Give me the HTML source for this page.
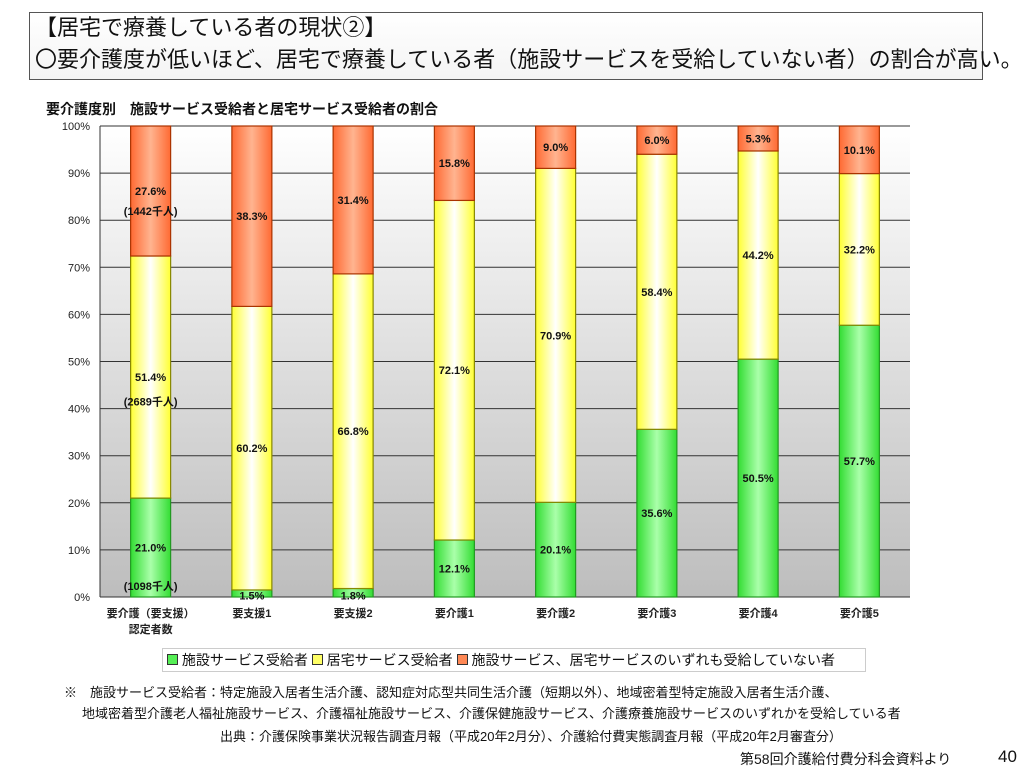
<!DOCTYPE html>
<html><head><meta charset="utf-8"><style>
body{margin:0;width:1024px;height:768px;background:#fff;font-family:"Liberation Sans","Noto Sans CJK JP",sans-serif;position:relative;overflow:hidden}
.abs{position:absolute;white-space:nowrap}
</style></head><body>
<div class="abs" style="left:29px;top:12px;width:952px;height:66px;border:1px solid #555;background:linear-gradient(#fff,#f4f4f4)"></div>
<div class="abs" style="left:35px;top:14px;font-size:22px;color:#111;line-height:28px">【居宅で療養している者の現状②】</div>
<div class="abs" style="left:35px;top:46px;font-size:22px;color:#111;line-height:28px">〇要介護度が低いほど、居宅で療養している者（施設サービスを受給していない者）の割合が高い。</div>
<div class="abs" style="left:46px;top:99px;font-size:14px;font-weight:bold;color:#111">要介護度別　施設サービス受給者と居宅サービス受給者の割合</div>
<svg class="abs" style="left:0;top:0" width="1024" height="768">
<defs>
<linearGradient id="bg" x1="0" y1="0" x2="0" y2="1"><stop offset="0" stop-color="#ffffff"/><stop offset="1" stop-color="#bdbdbd"/></linearGradient>
<linearGradient id="gG" x1="0" x2="1"><stop offset="0" stop-color="#33dd33"/><stop offset="0.5" stop-color="#aaffaa"/><stop offset="1" stop-color="#33dd33"/></linearGradient>
<linearGradient id="gY" x1="0" x2="1"><stop offset="0" stop-color="#ffff33"/><stop offset="0.5" stop-color="#ffffff"/><stop offset="1" stop-color="#ffff33"/></linearGradient>
<linearGradient id="gO" x1="0" x2="1"><stop offset="0" stop-color="#ff6a33"/><stop offset="0.5" stop-color="#ffb490"/><stop offset="1" stop-color="#ff6a33"/></linearGradient>
</defs>
<g id="plot"></g>
</svg>
<div class="abs" style="left:162px;top:648px;width:698px;height:22px;border:1px solid #ccc;font-size:14px;line-height:22px;color:#111;padding-left:4px">
<span><span style="display:inline-block;width:9px;height:9px;background:#55ee55;border:1px solid #333"></span> 施設サービス受給者</span>
<span><span style="display:inline-block;width:9px;height:9px;background:#ffff66;border:1px solid #333"></span> 居宅サービス受給者</span>
<span><span style="display:inline-block;width:9px;height:9px;background:#ff8855;border:1px solid #333"></span> 施設サービス、居宅サービスのいずれも受給していない者</span>
</div>
<div class="abs" style="left:64px;top:682px;font-size:13px;color:#111">※　施設サービス受給者：特定施設入居者生活介護、認知症対応型共同生活介護（短期以外）、地域密着型特定施設入居者生活介護、</div>
<div class="abs" style="left:82px;top:703px;font-size:13px;color:#111">地域密着型介護老人福祉施設サービス、介護福祉施設サービス、介護保健施設サービス、介護療養施設サービスのいずれかを受給している者</div>
<div class="abs" style="left:220px;top:726px;font-size:13px;color:#111">出典：介護保険事業状況報告調査月報（平成20年2月分）、介護給付費実態調査月報（平成20年2月審査分）</div>
<div class="abs" style="left:740px;top:749px;font-size:14px;color:#111">第58回介護給付費分科会資料より</div>
<div class="abs" style="left:998px;top:747px;font-size:17px;color:#111">40</div>
<script>
const categories=["要介護（要支援）\n認定者数","要支援1","要支援2","要介護1","要介護2","要介護3","要介護4","要介護5"];
const facility=[21.0,1.5,1.8,12.1,20.1,35.6,50.5,57.7];
const home=[51.4,60.2,66.8,72.1,70.9,58.4,44.2,32.2];
const neither=[27.6,38.3,31.4,15.8,9.0,6.0,5.3,10.1];
const yTicks=[0,10,20,30,40,50,60,70,80,90,100];
const countNotes=[["(1442千人)",82],["(2689千人)",41.5],["(1098千人)",2.3]];
const NS="http://www.w3.org/2000/svg";
const X0=100,X1=910,Y0=597,Y1=126,BW=40;
const y=v=>Y0-(Y0-Y1)*v/100;
const cw=(X1-X0)/categories.length;
const xc=i=>X0+cw*(i+0.5);
const g=document.getElementById('plot');
function mk(t,a){const e=document.createElementNS(NS,t);for(const k in a)e.setAttribute(k,a[k]);g.appendChild(e);return e;}
let bg=mk('rect',{x:X0,y:Y1,width:X1-X0,height:Y0-Y1,fill:'url(#bg)'});


yTicks.forEach(t=>{
 let l=mk('line',{x1:X0,x2:X1,y1:y(t),y2:y(t),stroke:'#333','stroke-width':1});
 
 
 let tx=mk('text',{x:X0-10,y:y(t)+4,'text-anchor':'end','font-size':11,fill:'#222'});
 tx.textContent=t+'%';
 
 
});
let ax=mk('line',{x1:X0,x2:X0,y1:Y1,y2:Y0,stroke:'#333'});


const series=[[facility,'url(#gG)','#229922'],[home,'url(#gY)','#888800'],[neither,'url(#gO)','#aa3300']];
categories.forEach((c,i)=>{
 let base=0;
 series.forEach((s,si)=>{
  const v=s[0][i];
  let r=mk('rect',{x:xc(i)-BW/2,y:y(base+v),width:BW,height:y(base)-y(base+v),fill:s[1],stroke:s[2],'stroke-width':1.2});
  
  
  let mid=base+v/2;
  if(v<3) mid=base+0.3;
  let tx=mk('text',{x:xc(i),y:y(mid)+4,'text-anchor':'middle','font-size':11,'font-weight':'bold',fill:'#111'});
  tx.textContent=v.toFixed(1)+'%';
  
  
  base+=v;
 });
 const lines=c.split('\n');
 lines.forEach((ln,k)=>{
  let tx=mk('text',{x:xc(i),y:Y0+20+k*16,'text-anchor':'middle','font-size':11,'font-weight':'bold',fill:'#222','font-family':'Liberation Sans, Noto Sans CJK JP, sans-serif'});
  tx.textContent=ln;
  
  
 });
});
countNotes.forEach(n=>{
 let tx=mk('text',{x:xc(0),y:y(n[1])+4,'text-anchor':'middle','font-size':11,'font-weight':'bold',fill:'#111','font-family':'Liberation Sans, Noto Sans CJK JP, sans-serif'});
 tx.textContent=n[0];
 
 
});
</script>
</body></html>
